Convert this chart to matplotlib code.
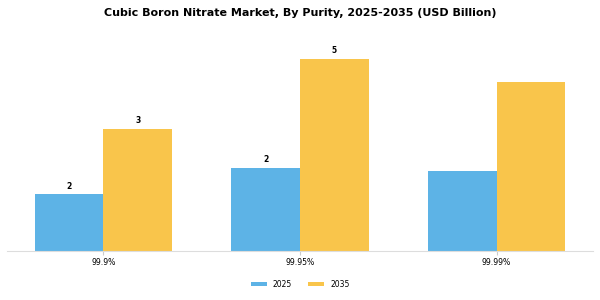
import matplotlib
matplotlib.use("Agg")
import matplotlib.pyplot as plt
import numpy as np

categories = ["99.9%", "99.95%", "99.99%"]
series_names = ["2025", "2035"]
values_2025 = [1.55, 2.28, 2.18]
values_2035 = [3.34, 5.23, 4.61]
labeled = [True, True, False]

colors = ["#5DB3E6", "#F9C54B"]

fig = plt.figure(figsize=(6, 3), dpi=100)
ax = fig.add_axes([0.012, 0.162, 0.976, 0.705])

x = np.arange(len(categories))
w = 0.35
b1 = ax.bar(x - w / 2, values_2025, w, color=colors[0], label=series_names[0])
b2 = ax.bar(x + w / 2, values_2035, w, color=colors[1], label=series_names[1])

for bars, vals in ((b1, values_2025), (b2, values_2035)):
    for i, (r, v) in enumerate(zip(bars, vals)):
        if labeled[i]:
            ax.text(r.get_x() + r.get_width() / 2, v + 0.1, f"{v:.0f}",
                    ha="center", va="bottom", fontsize=5.5, fontweight="bold")

ax.set_xlim(-0.49, 2.49)
ax.set_ylim(0, max(values_2035) * 1.1)
ax.set_xticks(x)
ax.set_xticklabels(categories, fontsize=5.6)
ax.tick_params(axis="x", length=3, color="#cccccc", pad=2)
ax.set_yticks([])
for s in ("top", "right", "left"):
    ax.spines[s].set_visible(False)
ax.spines["bottom"].set_color("#dddddd")

fig.suptitle("Cubic Boron Nitrate Market, By Purity, 2025-2035 (USD Billion)",
             fontsize=8, fontweight="bold", y=0.973)
fig.legend(handles=[b1, b2], labels=series_names, loc="center", ncol=2,
           frameon=False, fontsize=5.5, bbox_to_anchor=(0.5, 0.053),
           handlelength=2.1, handleheight=0.5, handletextpad=0.8,
           columnspacing=2.1)

fig.savefig("out.png", dpi=100)
